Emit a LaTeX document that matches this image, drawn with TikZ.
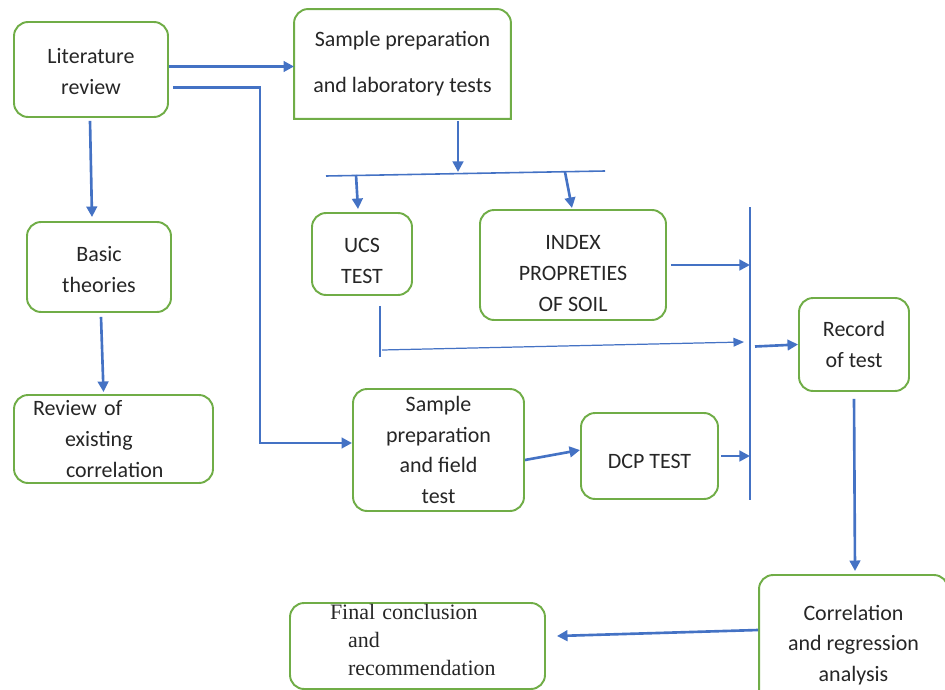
\documentclass[tikz,border=0pt]{standalone}
\usepackage{fontspec}
\setmainfont{Carlito}
\newfontfamily\serifbox{Liberation Serif}
\usepackage{tikz}
\usetikzlibrary{positioning,arrows.meta,calc}
\definecolor{boxgreen}{RGB}{112,173,71}
\definecolor{linkblue}{RGB}{68,114,196}
\definecolor{inkgray}{RGB}{38,38,38}
\newcommand\dropline[1]{\rule{0pt}{#1}}
\tikzset{box/.style = {draw=boxgreen,line width=1.1pt,rounded corners=8pt,align=center,
                       text=inkgray,font=\fontsize{12.5}{17.5}\selectfont,inner sep=0pt},
         arr/.style = {draw=linkblue,line width=1.5pt,-{Triangle[length=6pt,width=6pt]}},
         thinarr/.style = {draw=linkblue,line width=0.7pt,-{Triangle[length=6pt,width=5pt]}},
         bar/.style = {draw=linkblue,line width=0.9pt}}

\begin{document}
\begin{tikzpicture}[x=0.02cm,y=-0.02cm]
    \useasboundingbox (0,0) rectangle (945,689);
    % boxes
    \node[box,minimum width=3.08cm,minimum height=1.9cm] (lit) at (91,69.5) {\dropline{11pt}Literature\\review};
    \node[box,draw=none,minimum width=4.3cm,minimum height=2.16cm] (lab) at (402.5,64) {Sample preparation\\[0.3cm]and laboratory tests};
    \draw[draw=boxgreen,line width=1.1pt] (lab.south west) [rounded corners=8pt] -- (lab.north west) -- (lab.north east) [sharp corners] -- (lab.south east) -- cycle;
    \node[box,minimum width=2.88cm,minimum height=1.8cm] (basic) at (99,267) {\dropline{11.5pt}Basic\\theories};
    \node[box,align=left,text width=3.22cm,inner xsep=0.38cm,minimum height=1.76cm] (review) at (113.5,439)
        {Review of\\\hspace*{0.64cm}existing\\\hspace*{0.66cm}correlation};
    \node[box,minimum width=2cm,minimum height=1.64cm] (ucs) at (362,254) {\dropline{16pt}UCS\\TEST};
    \node[box,minimum width=3.72cm,minimum height=2.2cm] (index) at (573,265) {\dropline{18pt}INDEX\\PROPRETIES\\OF SOIL};
    \node[box,minimum width=2.2cm,minimum height=1.86cm] (record) at (854,344.5) {Record\\of test};
    \node[box,minimum width=3.42cm,minimum height=2.44cm] (field) at (438.5,450) {Sample\\preparation\\and field\\test};
    \node[box,minimum width=2.74cm,minimum height=1.72cm] (dcp) at (649.5,456) {\dropline{14pt}DCP TEST};
    \node[box,minimum width=3.78cm,minimum height=2.8cm] (corr) at (853.5,645) {Correlation\\and regression\\analysis};
    \node[box,align=left,text width=3.5cm,inner xsep=0.8cm,minimum height=1.72cm,
          font=\serifbox\fontsize{12.5}{16}\selectfont] (final) at (417.5,646)
        {Final conclusion\\\hspace*{0.36cm}and\\\hspace*{0.36cm}recommendation\rule[-0.24cm]{0pt}{0pt}};
    % bars
    \coordinate (barL) at (326,176);
    \coordinate (barR) at (605,171);
    \coordinate (vt) at (750,207);
    \coordinate (vb) at (750,500);
    \coordinate (hub) at (458,172);
    \coordinate (ucsbranch) at (356,175);
    \coordinate (indexbranch) at (565,172);
    \coordinate (ucsfoot) at (380,357);
    \coordinate (trunk) at (260,443);
    \draw[bar] (barL) -- (barR);
    \draw[bar] (vt) -- (vb);
    % connectors
    \draw[arr] ([yshift=0.06cm]lit.east) -- ([yshift=0.06cm]lit.east -| lab.west);
    \draw[arr] ([shift={(4,18)}]lit.east) -| (trunk) -- (trunk -| field.west);
    \draw[arr] ([shift={(-1,3)}]lit.south) -- ([shift={(-7,-4)}]basic.north);
    \draw[arr] ([shift={(2,4)}]basic.south) -- ([shift={(-10,-2)}]review.north);
    \draw[arr] ([shift={(0,2)}]lab.south -| hub) -- (hub);
    \draw[arr] (ucsbranch) -- ([shift={(-4,-3)}]ucs.north);
    \draw[arr] (indexbranch) -- ([shift={(-1,-1)}]index.north);
    \draw[arr] ([xshift=0.08cm]index.east) -- (index.east -| vt);
    \draw[bar] ([shift={(0,10)}]ucs.south -| ucsfoot) -- (ucsfoot);
    \draw[thinarr] ([shift={(2,-7)}]ucsfoot) -- ([shift={(-6,-15)}]ucsfoot -| vt);
    \draw[arr] ([shift={(5,2)}]record.west -| vt) -- (record.west);
    \draw[arr] ([yshift=-0.2cm]field.east) -- ([yshift=0.12cm]dcp.west);
    \draw[arr] ([xshift=0.04cm]dcp.east) -- (dcp.east -| vt);
    \draw[arr] ([yshift=-0.14cm]record.south) -- ([shift={(1,-3)}]record.south |- corr.north);
    \draw[arr] ([yshift=0.3cm]corr.west) -- ([shift={(11,-10)}]final.east);
\end{tikzpicture}
\end{document}
